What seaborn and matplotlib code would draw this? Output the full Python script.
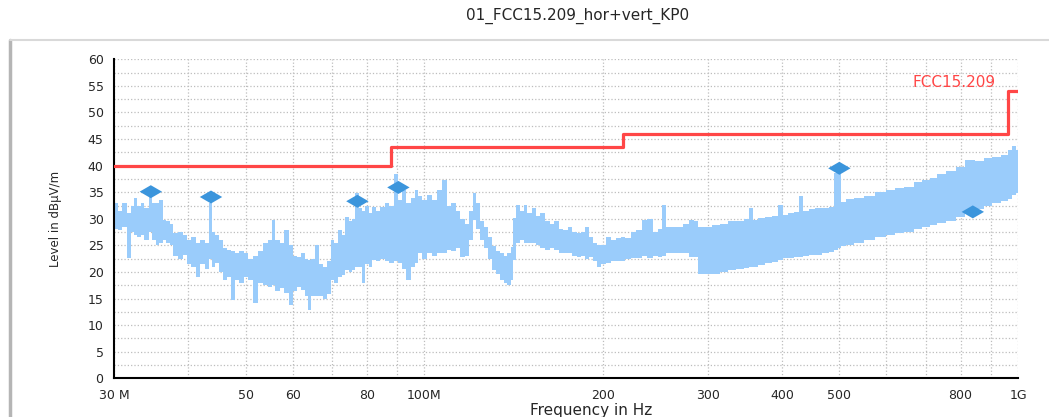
import numpy as np
import matplotlib
matplotlib.use("Agg")
import matplotlib.pyplot as plt
from matplotlib.lines import Line2D
import seaborn as sns

# scan trace envelope (MHz, dBuV/m)
freq_mhz = [30.0, 30.3, 30.7, 31.2, 31.9, 32.3, 32.6, 33.0, 33.5, 34.0, 34.6, 35.0, 35.5, 36.0,
            36.5, 37.0, 37.5, 38.0, 38.8, 39.5, 40.0, 40.8, 41.5, 42.3, 43.0, 43.6, 44.0, 44.8,
            45.5, 46.2, 46.8, 47.5, 48.3, 49.2, 50.0, 51.0, 52.0, 53.0, 54.0, 55.0, 55.7, 56.5,
            57.5, 58.6, 59.5, 60.5, 61.5, 62.5, 63.3, 64.0, 65.0, 66.0, 67.0, 68.0, 69.0, 70.0,
            71.0, 72.0, 73.0, 74.0, 75.0, 76.0, 77.0, 78.0, 79.0, 80.0, 81.0, 82.0, 83.5, 85.0,
            86.5, 88.0, 89.8, 91.0, 92.5, 94.0, 95.5, 97.0, 98.0, 100.0, 102.0, 104.0, 106.0,
            108.0, 110.0, 112.0, 114.0, 116.0, 118.0, 120.0, 121.5, 123.0, 125.0, 127.0, 129.0,
            131.0, 133.0, 135.0, 137.0, 139.0, 140.5, 141.5, 144.0, 146.0, 148.0, 150.0, 153.0,
            155.0, 158.0, 161.0, 164.0, 167.0, 170.0, 173.0, 176.0, 179.0, 182.0, 185.0, 188.0,
            191.0, 194.0, 197.0, 200.0, 204.0, 208.0, 212.0, 216.0, 220.0, 225.0, 230.0, 235.0,
            240.0, 245.0, 250.0, 253.0, 257.0, 263.0, 270.0, 276.0, 282.0, 288.0, 291.0, 300.0,
            310.0, 320.0, 330.0, 340.0, 350.0, 355.0, 360.0, 370.0, 380.0, 390.0, 398.0, 405.0,
            415.0, 425.0, 430.0, 440.0, 450.0, 460.0, 475.0, 487.0, 493.0, 500.0, 505.0, 520.0,
            540.0, 560.0, 587.0, 610.0, 630.0, 655.0, 680.0, 700.0, 720.0, 740.0, 770.0, 800.0,
            830.0, 860.0, 890.0, 920.0, 950.0, 970.0, 985.0, 1000.0]
level_hi = [29.4, 32.9, 31.5, 33.0, 31.0, 32.5, 34.0, 32.5, 33.0, 32.0, 34.2, 33.0, 32.9, 33.5,
            29.8, 29.5, 29.0, 27.3, 27.5, 27.0, 26.0, 26.5, 25.5, 26.0, 25.5, 32.9, 27.5, 27.0,
            26.0, 24.5, 24.1, 24.0, 23.5, 24.0, 23.5, 22.5, 23.0, 24.0, 25.5, 26.0, 29.8, 26.0,
            25.5, 27.9, 25.0, 23.0, 22.9, 23.5, 22.5, 22.2, 22.5, 25.0, 21.5, 21.0, 22.0, 26.0,
            25.5, 27.9, 27.0, 30.4, 29.5, 30.0, 34.8, 32.0, 31.5, 32.5, 31.0, 32.3, 31.5, 32.3,
            33.0, 32.5, 38.5, 33.5, 35.5, 33.0, 34.0, 35.5, 34.2, 33.5, 34.5, 33.5, 35.5,
            37.3, 32.5, 33.0, 31.5, 30.0, 29.0, 31.5, 34.8, 33.0, 29.5, 28.5, 26.5,
            24.8, 24.0, 23.5, 23.0, 23.5, 24.7, 30.1, 32.6, 31.5, 32.6, 31.0, 32.0,
            30.5, 31.0, 29.5, 29.0, 29.5, 28.0, 27.9, 28.5, 27.5, 27.3, 27.5, 28.5,
            26.5, 25.5, 25.0, 25.0, 26.6, 26.0, 26.3, 26.5, 26.3, 27.5, 27.9, 29.8,
            30.0, 27.6, 28.0, 32.6, 28.5, 28.5, 28.5, 29.0, 29.8, 29.5, 28.5, 28.5,
            28.8, 29.1, 29.5, 29.5, 30.0, 32.0, 29.8, 30.2, 30.4, 30.6, 32.6, 30.8,
            31.0, 31.2, 34.2, 31.5, 31.8, 32.0, 32.0, 32.3, 38.6, 38.5, 33.2, 33.8,
            34.0, 34.2, 35.1, 35.4, 35.7, 36.0, 37.0, 37.3, 37.6, 38.4, 38.9, 39.8,
            41.0, 40.8, 41.4, 41.7, 42.0, 42.9, 43.6, 43.0]
level_lo = [22.6, 28.0, 27.9, 28.5, 22.6, 27.5, 27.0, 26.6, 27.0, 26.0, 27.5, 26.0, 25.0, 25.5,
            26.0, 25.5, 25.0, 23.0, 22.5, 23.2, 21.5, 21.0, 19.1, 21.5, 20.5, 22.5, 21.0, 21.6,
            20.0, 18.5, 19.0, 14.7, 18.5, 18.0, 19.0, 18.5, 14.1, 18.0, 17.5, 17.2, 17.5, 16.5,
            17.0, 16.0, 13.8, 16.5, 17.2, 16.6, 15.5, 12.8, 15.4, 15.5, 15.4, 15.0, 15.8, 18.5,
            18.0, 19.1, 19.5, 20.4, 20.0, 20.4, 21.0, 21.0, 17.9, 21.5, 21.0, 22.2, 22.0, 22.5,
            22.0, 21.6, 22.0, 21.6, 20.5, 18.5, 21.0, 21.6, 23.5, 22.5, 23.5, 23.0, 23.5,
            23.5, 24.1, 24.0, 24.5, 22.9, 23.0, 26.0, 29.8, 28.0, 26.0, 24.5, 22.5,
            20.4, 19.7, 18.5, 17.9, 17.5, 18.5, 22.2, 25.5, 26.0, 25.5, 25.4, 25.4,
            25.0, 24.5, 24.1, 24.5, 24.1, 23.5, 23.5, 23.5, 23.0, 22.9, 23.0, 22.5,
            22.9, 22.0, 21.0, 21.5, 21.6, 22.0, 22.0, 22.0, 22.5, 22.6, 22.6, 23.0,
            22.6, 23.0, 22.9, 23.0, 23.5, 23.5, 23.5, 23.5, 22.9, 22.9, 19.7, 19.7,
            19.7, 20.0, 20.4, 20.6, 20.8, 21.0, 21.0, 21.4, 21.6, 21.8, 22.2, 22.6,
            22.6, 22.8, 22.8, 23.0, 23.2, 23.2, 23.5, 23.8, 24.2, 24.5, 24.8, 25.0,
            25.5, 26.0, 26.6, 27.0, 27.3, 27.6, 28.0, 28.5, 28.8, 29.2, 29.5, 30.4,
            31.3, 31.8, 32.5, 32.9, 33.3, 33.8, 34.5, 34.8]

# FCC 15.209 limit (step after each frequency)
limit_freq_mhz = [30, 88, 216, 960, 1000]
limit_level = [40, 43.5, 46, 54, 54]

# final measurement markers
peak_freq_mhz = [34.6, 43.7, 77.1, 90.4, 500.0, 839.0]
peak_level = [35.1, 34.1, 33.3, 35.9, 39.5, 31.3]

xtick_mhz = [30, 40, 50, 60, 70, 80, 90, 100, 200, 300, 400, 500, 600, 700, 800, 900, 1000]
xtick_labels = ["30 M", "", "50", "60", "", "80", "", "100M", "200", "300", "400", "500",
                "", "", "800", "", "1G"]

sns.set_style("white")
plt.rcParams["font.family"] = ["DejaVu Sans"]

fig = plt.figure(figsize=(10.49, 4.17), dpi=100)
ax = fig.add_axes([0.1087, 0.0928, 0.8618, 0.765])
ax.set_xscale("log")

freq = np.array(freq_mhz) * 1e6
ax.fill_between(freq, level_lo, level_hi, step="mid", color="#9accfb", linewidth=0, zorder=2)

sns.lineplot(x=np.array(limit_freq_mhz) * 1e6, y=limit_level, drawstyle="steps-post",
             color="#ff4646", linewidth=2.3, ax=ax, zorder=3)

diamond = [(-1, 0), (0, 0.58), (1, 0), (0, -0.58)]
sns.scatterplot(x=np.array(peak_freq_mhz) * 1e6, y=peak_level, marker=diamond, s=260,
                color="#3b95dc", edgecolor="none", ax=ax, zorder=5)

ax.text(665e6, 55.6, "FCC15.209", color="#ff4646", fontsize=11, va="center", ha="left",
        clip_on=False)

ax.set_xlim(30e6, 1e9)
ax.set_ylim(0, 60)
ax.set_xticks(np.array(xtick_mhz) * 1e6)
ax.set_xticklabels(xtick_labels, fontsize=9)
ax.xaxis.set_minor_locator(matplotlib.ticker.NullLocator())
yt = np.arange(0, 62.5, 2.5)
ax.set_yticks(yt)
ax.set_yticklabels([f"{v:g}" if v % 5 == 0 else "" for v in yt], fontsize=9)

ax.grid(True, linestyle=":", color="#bdbdbd", linewidth=0.9)
ax.tick_params(direction="inout", length=7, width=1.3, color="black", pad=4)
for side in ["top", "right"]:
    ax.spines[side].set_visible(False)
for side in ["left", "bottom"]:
    ax.spines[side].set_color("black")
    ax.spines[side].set_linewidth(1.5)

ax.set_ylabel("Level in dBµV/m", fontsize=8.5)
ax.yaxis.set_label_coords(-0.058, 0.5)
ax.set_xlabel("Frequency in Hz", fontsize=11)
ax.xaxis.set_label_coords(0.5277, -0.077)

fig.text(0.551, 0.9616, "01_FCC15.209_hor+vert_KP0", ha="center", va="center", fontsize=11)

# outer frame
fig.add_artist(Line2D([0.0095, 0.0095], [0, 0.905], color="#b5b5b5", linewidth=2.5))
fig.add_artist(Line2D([0.0095, 1.0], [0.905, 0.905], color="#d9d9d9", linewidth=1.5))

fig.savefig("out.png", dpi=100)
